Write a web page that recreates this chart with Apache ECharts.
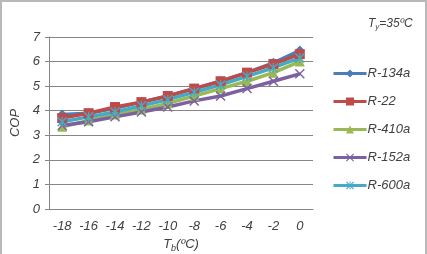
<!DOCTYPE html>
<html>
<head>
<meta charset="utf-8">
<script src="https://cdn.jsdelivr.net/npm/echarts@6/dist/echarts.min.js"></script>
<style>
  html, body { margin: 0; padding: 0; background: #fff; }
  #main { width: 423px; height: 252px; border: 2px solid #b8b8b8; border-bottom: none; }
</style>
</head>
<body>
<div id="main"></div>
<script>
// 数据
const categories = ['-18', '-16', '-14', '-12', '-10', '-8', '-6', '-4', '-2', '0']
const r134a = [3.85, 3.9, 4.1, 4.35, 4.6, 4.9, 5.2, 5.55, 5.95, 6.45]
const r22 = [3.7, 3.9, 4.15, 4.35, 4.6, 4.9, 5.2, 5.55, 5.9, 6.3]
const r410a = [3.35, 3.6, 3.85, 4.05, 4.3, 4.6, 4.9, 5.2, 5.55, 6.0]
const r152a = [3.4, 3.55, 3.75, 3.95, 4.15, 4.4, 4.6, 4.9, 5.2, 5.5]
const r600a = [3.55, 3.75, 3.95, 4.2, 4.45, 4.75, 5.05, 5.4, 5.75, 6.15]
const yTicks = [0, 1, 2, 3, 4, 5, 6, 7]

const xMark = 'path://M0,1L1,0L5,4L9,0L10,1L6,5L10,9L9,10L5,6L1,10L0,9L4,5Z'
const starMark = 'path://M0,1L1,0L5,4L9,0L10,1L6,5L10,9L9,10L5,6L1,10L0,9L4,5Z M4.4,0L5.6,0L5.6,10L4.4,10Z'

const font = 'Liberation Sans, Arial, sans-serif'
const txt = '#404040'

const myChart = echarts.init(document.getElementById('main'))

function line(name, data, color, symbol, size) {
    return {
        name: name,
        type: 'line',
        data: data,
        symbol: symbol,
        symbolSize: size,
        showSymbol: true,
        lineStyle: { width: 3.5, color: color },
        itemStyle: { color: color },
        emphasis: { disabled: true }
    }
}

myChart.setOption({
    animation: false,
    textStyle: { fontFamily: font },
    title: {
        text: '{i|T}{s|y}{i|=35ºC}',
        left: 361,
        top: 9,
        textStyle: {
            fontWeight: 'normal',
            fontStyle: 'italic',
            fontSize: 12,
            color: txt,
            rich: {
                i: { fontFamily: font, fontStyle: 'italic', fontWeight: 'normal', fontSize: 12, color: txt },
                s: { fontFamily: font, fontStyle: 'italic', fontWeight: 'normal', fontSize: 8, color: txt, padding: [7, 0, 0, 0] }
            }
        }
    },
    legend: {
        orient: 'vertical',
        left: 325,
        top: 60,
        itemWidth: 33,
        itemHeight: 10,
        itemGap: 15,
        lineStyle: { width: 3 },
        textStyle: { fontFamily: font, fontStyle: 'italic', fontSize: 13, color: txt, padding: [0, 0, 0, -4] },
        data: ['R-134a', 'R-22', 'R-410a', 'R-152a', 'R-600a']
    },
    grid: { left: 47, right: 112, top: 35, bottom: 45, outerBoundsMode: 'none' },
    xAxis: {
        type: 'category',
        data: categories,
        boundaryGap: true,
        name: '{i|T}{s|b}{i|(ºC)}',
        nameLocation: 'middle',
        nameGap: 25,
        nameTextStyle: {
            rich: {
                i: { fontFamily: font, fontStyle: 'italic', fontSize: 13, color: txt },
                s: { fontFamily: font, fontStyle: 'italic', fontSize: 9, color: txt, padding: [8, 0, 0, 0] }
            }
        },
        axisLine: { lineStyle: { color: '#868686', width: 1 } },
        axisTick: { show: false },
        axisLabel: { fontStyle: 'italic', fontSize: 13, color: txt, margin: 11 }
    },
    yAxis: {
        type: 'value',
        min: yTicks[0],
        max: yTicks[yTicks.length - 1],
        interval: 1,
        name: 'COP',
        nameLocation: 'middle',
        nameGap: 24,
        nameTextStyle: { fontFamily: font, fontStyle: 'italic', fontSize: 13, color: txt },
        axisLine: { show: true, lineStyle: { color: '#868686', width: 1 } },
        axisTick: { show: true, length: 4, lineStyle: { color: '#868686' } },
        splitLine: { lineStyle: { color: '#868686', width: 1 } },
        axisLabel: { fontStyle: 'italic', fontSize: 13, color: txt, margin: 9 }
    },
    series: [
        line('R-134a', r134a, '#4A7EBB', 'diamond', 10),
        line('R-22', r22, '#BE4B48', 'rect', 10),
        line('R-410a', r410a, '#98B954', 'triangle', 10),
        line('R-152a', r152a, '#7D60A0', xMark, 10),
        line('R-600a', r600a, '#46AAC5', starMark, 10)
    ]
})
</script>
</body>
</html>
